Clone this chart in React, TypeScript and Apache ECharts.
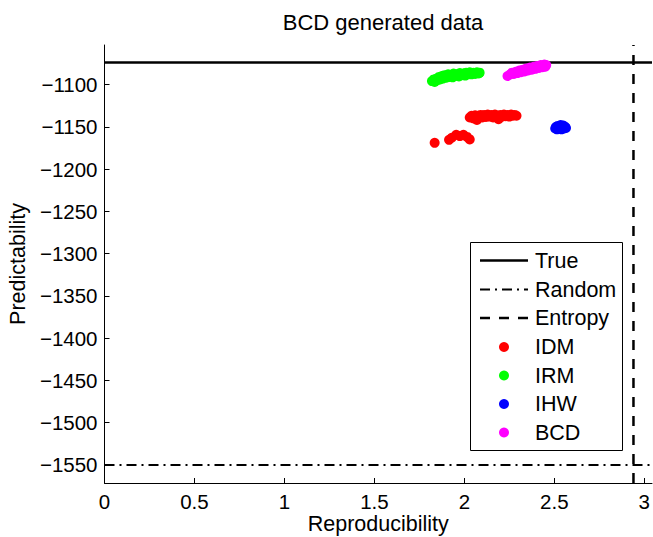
import React, { useEffect, useRef } from "react";
import * as echarts from "echarts";

const TITLE = "BCD generated data";
const X_NAME = "Reproducibility";
const Y_NAME = "Predictability";

const X_MIN = 0;
const X_MAX = 3.043;
const Y_MIN = -1571.3;
const Y_MAX = -1053.3;
const X_TICKS = [0, 0.5, 1, 1.5, 2, 2.5, 3];
const Y_TICKS = [-1550, -1500, -1450, -1400, -1350, -1300, -1250, -1200, -1150, -1100];

const TRUE_PRED = -1074;
const RANDOM_PRED = -1550;
const ENTROPY_REPRO = 2.94;

const IDM: number[][] = [
  [2.03, -1139], [2.04, -1137], [2.05, -1140], [2.06, -1136.5], [2.07, -1142],
  [2.08, -1138], [2.09, -1136], [2.1, -1139], [2.11, -1136], [2.12, -1138.5],
  [2.13, -1135.5], [2.14, -1138], [2.15, -1136], [2.16, -1139], [2.17, -1135.5],
  [2.18, -1137.5], [2.19, -1141], [2.2, -1136], [2.21, -1138], [2.22, -1135.5],
  [2.23, -1137.5], [2.24, -1136], [2.25, -1138], [2.26, -1135.5], [2.27, -1137],
  [2.28, -1136], [2.29, -1137],
  [1.835, -1169], [1.915, -1165.5], [1.93, -1163], [1.955, -1159.5], [1.975, -1161],
  [1.995, -1159.5], [2.015, -1162], [2.03, -1165],
];

const IRM: number[][] = [
  [1.82, -1096], [1.83, -1094], [1.835, -1097], [1.845, -1093], [1.85, -1095],
  [1.86, -1091], [1.865, -1094], [1.875, -1090], [1.88, -1093], [1.89, -1089],
  [1.9, -1092], [1.91, -1088], [1.915, -1091], [1.925, -1089], [1.935, -1091.5],
  [1.94, -1087], [1.95, -1090], [1.96, -1088], [1.97, -1090.5], [1.975, -1086.5],
  [1.985, -1089], [1.995, -1087], [2.005, -1089.5], [2.01, -1086], [2.02, -1088],
  [2.03, -1085.5], [2.04, -1088], [2.05, -1086], [2.06, -1087.5], [2.07, -1085.5],
  [2.08, -1087], [2.085, -1086],
];

const IHW: number[][] = [
  [2.505, -1152], [2.51, -1150], [2.515, -1153], [2.52, -1149], [2.525, -1152],
  [2.53, -1150.5], [2.535, -1148], [2.54, -1153], [2.545, -1150], [2.55, -1148.5],
  [2.555, -1152], [2.56, -1150], [2.565, -1151.5],
];

const BCD: number[][] = [
  [2.24, -1090], [2.255, -1088], [2.265, -1086], [2.275, -1087.5], [2.285, -1085],
  [2.295, -1086.5], [2.305, -1083.5], [2.315, -1085.5], [2.325, -1082.5], [2.335, -1084.5],
  [2.345, -1081], [2.355, -1083.5], [2.365, -1080], [2.375, -1082.5], [2.385, -1079],
  [2.395, -1081.5], [2.405, -1078], [2.415, -1080.5], [2.425, -1077], [2.435, -1079.5],
  [2.445, -1076.5], [2.45, -1079], [2.455, -1077],
];

const LEGEND_LINES = ["True", "Random", "Entropy"];
const LEGEND_DOTS = ["IDM", "IRM", "IHW", "BCD"];
const DOT_COLORS = ["#ff0000", "#00ff00", "#0000ff", "#ff00ff"];

const FONT = "'Liberation Sans', Arial, Helvetica, sans-serif";
const FS_TICK = 20.5;
const FS_NAME = 21.5;
const FS_TITLE = 22;
const FS_LEGEND = 21.5;
const DASH_DOT = [10, 5, 2, 5];
const DASHED = [10, 9];

function fmt(v: number): string {
  return String(v).replace("-", "\u2212");
}

export default function App() {
  const ref = useRef<HTMLDivElement>(null);

  useEffect(() => {
    document.body.style.margin = "0";
    if (!ref.current) return;
    const chart = echarts.init(ref.current, null, { renderer: "svg" });

    const lx0 = 480, lx1 = 528, tx = 535;
    const rowsY = [260.5, 289.5, 318, 347, 375.5, 404, 432.5];
    const lineStyles = [
      { lineWidth: 2.5, lineDash: null as any },
      { lineWidth: 2, lineDash: DASH_DOT },
      { lineWidth: 2.5, lineDash: DASHED },
    ];
    const legendEls: any[] = [
      {
        type: "rect",
        shape: { x: 470.5, y: 242.5, width: 152, height: 208 },
        style: { fill: "#fff", stroke: "#000", lineWidth: 1 },
        z: 100,
      },
    ];
    LEGEND_LINES.forEach((name, i) => {
      legendEls.push({
        type: "line",
        shape: { x1: lx0, y1: rowsY[i], x2: lx1, y2: rowsY[i] },
        style: { stroke: "#000", lineWidth: lineStyles[i].lineWidth, lineDash: lineStyles[i].lineDash },
        z: 101,
      });
      legendEls.push({
        type: "text",
        x: tx,
        y: rowsY[i],
        style: { text: name, fill: "#000", font: `${FS_LEGEND}px ${FONT}`, verticalAlign: "middle", align: "left" },
        z: 101,
      });
    });
    LEGEND_DOTS.forEach((name, j) => {
      const y = rowsY[3 + j];
      legendEls.push({
        type: "circle",
        shape: { cx: 504, cy: y, r: 5 },
        style: { fill: DOT_COLORS[j] },
        z: 101,
      });
      legendEls.push({
        type: "text",
        x: tx,
        y: y,
        style: { text: name, fill: "#000", font: `${FS_LEGEND}px ${FONT}`, verticalAlign: "middle", align: "left" },
        z: 101,
      });
    });

    const scatter = (name: string, data: number[][], color: string) => ({
      name,
      type: "scatter",
      data,
      symbol: "circle",
      symbolSize: 10,
      itemStyle: { color, opacity: 1 },
      z: 3,
      silent: true,
    });

    chart.setOption({
      animation: false,
      backgroundColor: "#fff",
      textStyle: { fontFamily: FONT },
      title: {
        text: TITLE,
        left: 378,
        top: 6,
        textAlign: "center",
        textStyle: { fontFamily: FONT, fontSize: FS_TITLE, fontWeight: "normal", color: "#000" },
      },
      grid: { left: 104.5, right: 1, top: 45, bottom: 54, outerBoundsMode: "none" } as any,
      xAxis: {
        type: "value",
        min: X_MIN,
        max: X_MAX,
        name: X_NAME,
        nameLocation: "middle",
        nameGap: 29.5,
        nameMoveOverlap: false,
        nameTextStyle: { fontFamily: FONT, fontSize: FS_NAME, color: "#000" },
        axisLine: { show: true, onZero: false, lineStyle: { color: "#000", width: 1 } },
        axisTick: { show: true, inside: true, length: 5, lineStyle: { color: "#000" }, customValues: X_TICKS },
        axisLabel: {
          fontFamily: FONT, fontSize: FS_TICK, color: "#000", margin: 7.5,
          customValues: X_TICKS, formatter: (v: number) => fmt(v),
        },
        splitLine: { show: false },
      } as any,
      yAxis: {
        type: "value",
        min: Y_MIN,
        max: Y_MAX,
        name: Y_NAME,
        nameLocation: "middle",
        nameGap: 76,
        nameMoveOverlap: false,
        nameTextStyle: { fontFamily: FONT, fontSize: FS_NAME, color: "#000" },
        axisLine: { show: true, onZero: false, lineStyle: { color: "#000", width: 1 } },
        axisTick: { show: true, inside: true, length: 5, lineStyle: { color: "#000" }, customValues: Y_TICKS },
        axisLabel: {
          fontFamily: FONT, fontSize: FS_TICK, color: "#000", margin: 7,
          customValues: Y_TICKS, formatter: (v: number) => fmt(v),
        },
        splitLine: { show: false },
      } as any,
      series: [
        {
          name: "True", type: "line", data: [[X_MIN, TRUE_PRED], [X_MAX, TRUE_PRED]],
          symbol: "none", lineStyle: { color: "#000", width: 2.5, type: "solid" }, z: 2, silent: true,
        },
        {
          name: "Random", type: "line", data: [[X_MIN, RANDOM_PRED], [X_MAX, RANDOM_PRED]],
          symbol: "none", lineStyle: { color: "#000", width: 2, type: DASH_DOT }, z: 2, silent: true,
        },
        {
          name: "Entropy", type: "line", data: [[ENTROPY_REPRO, Y_MIN], [ENTROPY_REPRO, Y_MAX]],
          symbol: "none", lineStyle: { color: "#000", width: 2.5, type: DASHED }, z: 2, silent: true,
        },
        scatter("IDM", IDM, DOT_COLORS[0]),
        scatter("IRM", IRM, DOT_COLORS[1]),
        scatter("IHW", IHW, DOT_COLORS[2]),
        scatter("BCD", BCD, DOT_COLORS[3]),
      ],
      graphic: legendEls,
    });

    return () => chart.dispose();
  }, []);

  return <div ref={ref} style={{ width: 653, height: 537 }} />;
}
